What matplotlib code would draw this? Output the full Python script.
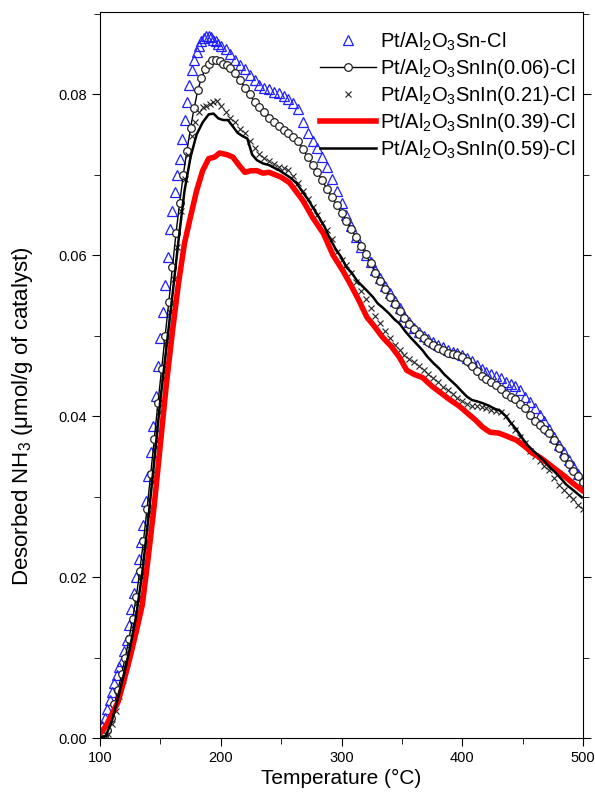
import matplotlib.pyplot as plt
import numpy as np

plt.rcParams['font.family'] = ['Liberation Sans', 'DejaVu Sans']
plt.rcParams['mathtext.default'] = 'regular'

# Pt/Al2O3Sn-Cl (blue triangles)
t_sn = [100, 102, 104, 106, 108, 110, 112, 114, 116, 118, 120, 122, 124, 126, 128, 130,
        132, 134, 136, 138, 140, 142, 144, 146, 148, 150, 152, 154, 156, 158, 160, 162,
        164, 166, 168, 170, 172, 174, 176, 178, 180, 182, 184, 186, 188, 190, 192, 194,
        196, 198, 200, 204, 208, 212, 216, 220, 224, 228, 232, 236, 240, 244, 248, 252,
        256, 260, 264, 268, 272, 276, 280, 284, 288, 292, 296, 300, 304, 308, 312, 316,
        320, 324, 328, 332, 336, 340, 344, 348, 352, 356, 360, 364, 368, 372, 376, 380,
        384, 388, 392, 396, 400, 404, 408, 412, 416, 420, 424, 428, 432, 436, 440, 444,
        448, 452, 456, 460, 464, 468, 472, 476, 480, 484, 488, 492, 496, 500]
v_sn = [0.0008, 0.0015, 0.0025, 0.0036, 0.0047, 0.0057, 0.0068, 0.0078, 0.0088, 0.0096,
        0.0108, 0.0122, 0.0140, 0.0160, 0.0180, 0.0200, 0.0222, 0.0244, 0.0265, 0.0295,
        0.0325, 0.0356, 0.0388, 0.0425, 0.0462, 0.0497, 0.0530, 0.0563, 0.0598, 0.0632,
        0.0655, 0.0678, 0.0700, 0.0720, 0.0745, 0.0768, 0.0790, 0.0812, 0.0830, 0.0843,
        0.0852, 0.0860, 0.0866, 0.0870, 0.0873, 0.0872, 0.0871, 0.0868, 0.0866, 0.0863,
        0.0860, 0.0856, 0.0850, 0.0842, 0.0836, 0.0832, 0.0824, 0.0818, 0.0811, 0.0808,
        0.0806, 0.0803, 0.0801, 0.0798, 0.0794, 0.0789, 0.0782, 0.0765, 0.0752, 0.0742,
        0.0733, 0.0722, 0.0710, 0.0695, 0.0680, 0.0665, 0.0650, 0.0636, 0.0622, 0.0610,
        0.0600, 0.0592, 0.0581, 0.0572, 0.0562, 0.0553, 0.0543, 0.0535, 0.0525, 0.0517,
        0.0510, 0.0504, 0.0500, 0.0496, 0.0492, 0.0489, 0.0486, 0.0482, 0.0480, 0.0478,
        0.0476, 0.0472, 0.0468, 0.0463, 0.0458, 0.0455, 0.0452, 0.0450, 0.0447, 0.0443,
        0.0440, 0.0437, 0.0432, 0.0424, 0.0417, 0.0410, 0.0402, 0.0394, 0.0384, 0.0374,
        0.0364, 0.0355, 0.0346, 0.0338, 0.0328, 0.0318]

# Pt/Al2O3SnIn(0.06)-Cl (open circles)
t_006 = [100, 103, 106, 109, 112, 115, 118, 121, 124, 127, 130, 133, 136, 139, 142, 145,
         148, 151, 154, 157, 160, 163, 166, 169, 172, 175, 178, 181, 184, 187, 190, 193,
         196, 199, 202, 205, 208, 212, 216, 220, 224, 228, 232, 236, 240, 244, 248, 252,
         256, 260, 264, 268, 272, 276, 280, 284, 288, 292, 296, 300, 304, 308, 312, 316,
         320, 324, 328, 332, 336, 340, 344, 348, 352, 356, 360, 364, 368, 372, 376, 380,
         384, 388, 392, 396, 400, 404, 408, 412, 416, 420, 424, 428, 432, 436, 440, 444,
         448, 452, 456, 460, 464, 468, 472, 476, 480, 484, 488, 492, 496, 500]
v_006 = [0.0000, 0.0002, 0.0010, 0.0025, 0.0042, 0.0060, 0.0080, 0.0100, 0.0123, 0.0148,
         0.0175, 0.0208, 0.0245, 0.0285, 0.0328, 0.0372, 0.0416, 0.0458, 0.0500, 0.0542,
         0.0585, 0.0628, 0.0665, 0.0700, 0.0730, 0.0758, 0.0783, 0.0805, 0.0820, 0.0831,
         0.0838, 0.0842, 0.0843, 0.0841, 0.0838, 0.0836, 0.0833, 0.0826, 0.0818, 0.0808,
         0.0800, 0.0790, 0.0784, 0.0778, 0.0771, 0.0765, 0.0760, 0.0756, 0.0752, 0.0747,
         0.0742, 0.0732, 0.0722, 0.0712, 0.0703, 0.0693, 0.0682, 0.0672, 0.0662, 0.0652,
         0.0643, 0.0633, 0.0622, 0.0612, 0.0601, 0.0590, 0.0578, 0.0568, 0.0558, 0.0548,
         0.0539, 0.0531, 0.0522, 0.0514, 0.0508, 0.0502, 0.0497, 0.0492, 0.0488, 0.0485,
         0.0482, 0.0479, 0.0477, 0.0476, 0.0473, 0.0468, 0.0462, 0.0456, 0.0450, 0.0446,
         0.0442, 0.0439, 0.0434, 0.0428, 0.0424, 0.0421, 0.0415, 0.0410, 0.0402, 0.0394,
         0.0389, 0.0384, 0.0379, 0.0370, 0.0360, 0.0349, 0.0340, 0.0332, 0.0326, 0.0318]

# Pt/Al2O3SnIn(0.21)-Cl (x markers)
t_021 = [100, 104, 107, 110, 113, 116, 119, 122, 125, 128, 131, 134, 137, 140, 143, 146,
         149, 152, 155, 158, 161, 164, 167, 170, 173, 176, 179, 182, 185, 188, 191, 194,
         197, 200, 204, 208, 212, 216, 220, 224, 228, 232, 236, 240, 244, 248, 252, 256,
         260, 264, 268, 272, 276, 280, 284, 288, 292, 296, 300, 304, 308, 312, 316, 320,
         324, 328, 332, 336, 340, 344, 348, 352, 356, 360, 364, 368, 372, 376, 380, 384,
         388, 392, 396, 400, 404, 408, 412, 416, 420, 424, 428, 432, 436, 440, 444, 448,
         452, 456, 460, 464, 468, 472, 476, 480, 484, 488, 492, 496, 500]
v_021 = [0.0000, 0.0000, 0.0005, 0.0018, 0.0034, 0.0052, 0.0072, 0.0093, 0.0115, 0.0140,
         0.0168, 0.0200, 0.0237, 0.0277, 0.0318, 0.0362, 0.0405, 0.0447, 0.0490, 0.0530,
         0.0570, 0.0610, 0.0655, 0.0695, 0.0725, 0.0748, 0.0765, 0.0778, 0.0784, 0.0786,
         0.0788, 0.0791, 0.0792, 0.0786, 0.0778, 0.0771, 0.0765, 0.0757, 0.0752, 0.0742,
         0.0733, 0.0726, 0.0721, 0.0717, 0.0713, 0.0710, 0.0708, 0.0706, 0.0698, 0.0690,
         0.0680, 0.0670, 0.0660, 0.0650, 0.0640, 0.0631, 0.0620, 0.0604, 0.0594, 0.0588,
         0.0578, 0.0567, 0.0556, 0.0545, 0.0535, 0.0525, 0.0516, 0.0506, 0.0497, 0.0489,
         0.0482, 0.0476, 0.0471, 0.0467, 0.0462, 0.0457, 0.0452, 0.0448, 0.0442, 0.0436,
         0.0432, 0.0428, 0.0423, 0.0419, 0.0415, 0.0413, 0.0412, 0.0411, 0.0410, 0.0408,
         0.0406, 0.0405, 0.0400, 0.0392, 0.0383, 0.0374, 0.0366, 0.0357, 0.0350, 0.0344,
         0.0338, 0.0333, 0.0323, 0.0315, 0.0308, 0.0302, 0.0297, 0.0290, 0.0285]

# Pt/Al2O3SnIn(0.39)-Cl (thick red line)
t_039 = [100, 105, 110, 115, 120, 125, 130, 135, 140, 145, 150, 155, 160, 165, 170, 175,
         180, 185, 190, 195, 199, 205, 210, 215, 220, 225, 230, 235, 240, 245, 250, 257,
         262, 268, 276, 285, 293, 301, 307, 314, 321, 327, 334, 341, 348, 354, 360, 367,
         375, 383, 390, 397, 404, 411, 417, 423, 430, 437, 445, 452, 458, 465, 472, 478,
         485, 492, 499]
v_039 = [0.0005, 0.0015, 0.0030, 0.0045, 0.0072, 0.0101, 0.0132, 0.0165, 0.0225, 0.0290,
         0.0365, 0.0440, 0.0505, 0.0565, 0.0615, 0.0648, 0.0680, 0.0705, 0.0720, 0.0722,
         0.0727, 0.0725, 0.0722, 0.0712, 0.0703, 0.0705, 0.0705, 0.0702, 0.0703, 0.0700,
         0.0697, 0.0690, 0.0680, 0.0668, 0.0647, 0.0627, 0.0600, 0.0581, 0.0565, 0.0545,
         0.0523, 0.0512, 0.0498, 0.0487, 0.0473, 0.0457, 0.0452, 0.0448, 0.0437, 0.0428,
         0.0420, 0.0413, 0.0404, 0.0395, 0.0386, 0.0380, 0.0379, 0.0375, 0.0370, 0.0362,
         0.0354, 0.0348, 0.0340, 0.0333, 0.0325, 0.0316, 0.0308]

# Pt/Al2O3SnIn(0.59)-Cl (black line)
t_059 = [100, 105, 110, 115, 120, 125, 130, 135, 140, 145, 150, 155, 160, 165, 170, 175,
         180, 185, 190, 194, 198, 202, 206, 210, 214, 218, 222, 226, 230, 235, 240, 245,
         249, 254, 258, 263, 268, 272, 276, 281, 286, 290, 295, 300, 304, 308, 313, 317,
         321, 326, 330, 334, 339, 344, 348, 353, 357, 362, 367, 371, 376, 381, 385, 390,
         395, 400, 404, 408, 413, 417, 422, 427, 431, 436, 440, 445, 450, 454, 458, 463,
         468, 472, 477, 482, 486, 491, 495, 499]
v_059 = [0.0000, 0.0003, 0.0022, 0.0050, 0.0080, 0.0113, 0.0152, 0.0205, 0.0272, 0.0345,
         0.0420, 0.0485, 0.0550, 0.0618, 0.0680, 0.0722, 0.0750, 0.0765, 0.0775, 0.0776,
         0.0770, 0.0768, 0.0768, 0.0760, 0.0752, 0.0748, 0.0745, 0.0725, 0.0718, 0.0714,
         0.0712, 0.0708, 0.0705, 0.0700, 0.0696, 0.0689, 0.0678, 0.0670, 0.0660, 0.0648,
         0.0635, 0.0622, 0.0608, 0.0597, 0.0585, 0.0579, 0.0568, 0.0562, 0.0556, 0.0548,
         0.0540, 0.0535, 0.0528, 0.0520, 0.0515, 0.0505, 0.0498, 0.0490, 0.0482, 0.0474,
         0.0466, 0.0459, 0.0452, 0.0445, 0.0438, 0.0430, 0.0424, 0.0420, 0.0418, 0.0416,
         0.0413, 0.0409, 0.0407, 0.0400, 0.0392, 0.0383, 0.0372, 0.0364, 0.0358, 0.0351,
         0.0344, 0.0337, 0.0330, 0.0322, 0.0315, 0.0309, 0.0304, 0.0299]

fig = plt.figure(figsize=(5.95, 8.02), dpi=100)
ax = fig.add_axes([0.168, 0.0798, 0.812, 0.905])

ax.plot(t_sn, v_sn, ls='none', marker='^', ms=6.5, mfc='none', mec='#1f1fff', mew=0.9,
        label=r'Pt/Al$_2$O$_3$Sn-Cl')
ax.plot(t_006, v_006, color='black', lw=1, marker='o', ms=5.5, mfc='white', mec='#222222',
        mew=0.9, label=r'Pt/Al$_2$O$_3$SnIn(0.06)-Cl')
ax.plot(t_021, v_021, ls='none', marker='x', ms=4, color='#222222', mew=0.8,
        label=r'Pt/Al$_2$O$_3$SnIn(0.21)-Cl')
ax.plot(t_039, v_039, color='red', lw=4, label=r'Pt/Al$_2$O$_3$SnIn(0.39)-Cl')
ax.plot(t_059, v_059, color='black', lw=1.8, label=r'Pt/Al$_2$O$_3$SnIn(0.59)-Cl')

ax.set_xlim(100, 500)
ax.set_ylim(0, 0.0902)
ax.set_xticks([100, 200, 300, 400, 500])
ax.set_xticks([150, 250, 350, 450], minor=True)
ax.set_yticks([0.0, 0.02, 0.04, 0.06, 0.08])
ax.set_yticks([0.01, 0.03, 0.05, 0.07, 0.09], minor=True)
ax.yaxis.set_major_formatter(plt.FormatStrFormatter('%.2f'))
ax.tick_params(which='both', direction='out', labelsize=10.5, right=True, labelright=False)
ax.tick_params(which='major', length=6)
ax.tick_params(which='minor', length=4)

ax.set_xlabel('Temperature (°C)', fontsize=15, labelpad=3)
ax.set_ylabel('Desorbed NH$_3$ (μmol/g of catalyst)', fontsize=16)
ax.yaxis.set_label_coords(-0.135, 0.4435)

ax.legend(loc='upper right', bbox_to_anchor=(1.023, 1.0), frameon=False, fontsize=14.5,
          handlelength=2.8, handletextpad=0.2, labelspacing=0.2, borderaxespad=0.5,
          borderpad=0.4)

fig.savefig('out.png', dpi=100)
